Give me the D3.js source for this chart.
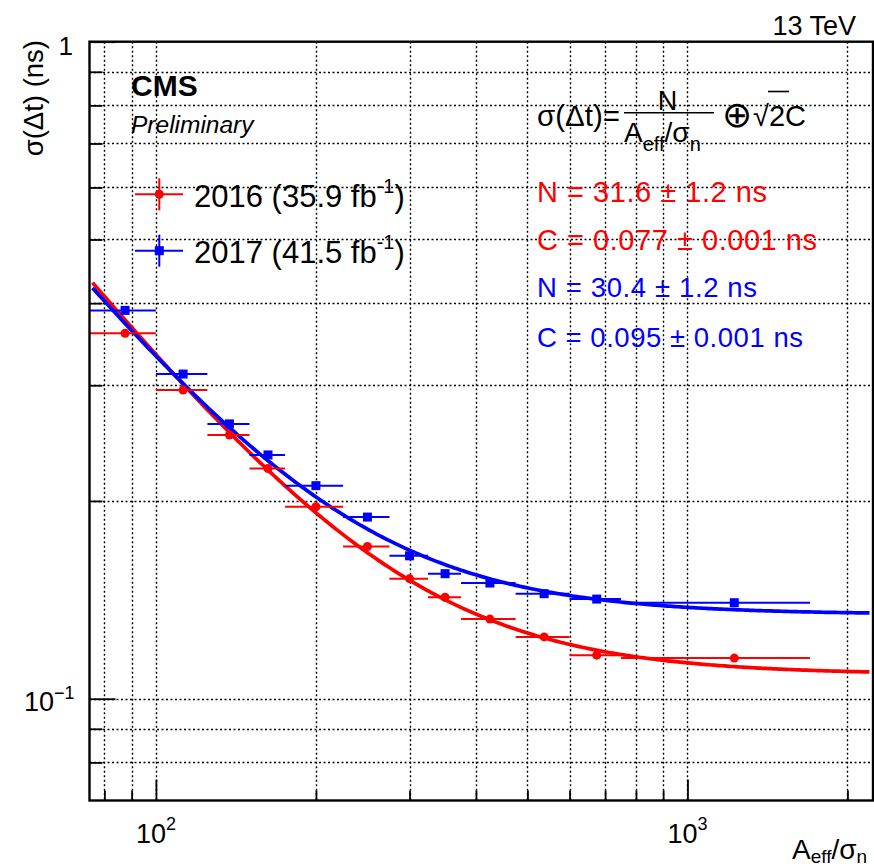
<!DOCTYPE html>
<html>
<head>
<meta charset="utf-8">
<script src="https://cdn.jsdelivr.net/npm/d3@7"></script>
<style>
  html, body { margin: 0; padding: 0; background: #fff; }
  svg { display: block; }
  text { font-family: "Liberation Sans", Arial, Helvetica, sans-serif; }
</style>
</head>
<body>
<svg id="chart" width="874" height="868"></svg>
<script>
// ---------------- data ----------------
const binLow      = [75, 100, 125, 150, 175, 225, 275, 325, 375, 475, 600, 750];
const binHigh     = [100, 125, 150, 175, 225, 275, 325, 375, 475, 600, 750, 1700];
const binCenter   = [87.5, 112.5, 137.5, 162.5, 200, 250, 300, 350, 425, 537.5, 675, 1225];
const sigma2016   = [0.360, 0.295, 0.252, 0.224, 0.196, 0.1705, 0.1523, 0.1427, 0.1322, 0.1242, 0.1165, 0.1153];
const sigma2017   = [0.390, 0.312, 0.262, 0.235, 0.211, 0.189, 0.165, 0.155, 0.150, 0.1445, 0.1418, 0.140];
const seriesNames = ["2016", "2017"];
const seriesLumi  = ["35.9", "41.5"];
const seriesColors = ["#ff0000", "#0000ff"];
const fitN        = [31.6, 30.4];
const fitNerr     = [1.2, 1.2];
const fitC        = [0.077, 0.095];
const fitCerr     = [0.001, 0.001];
const fitRange    = [76, 2200];
const xMinorTicks = [80, 90, 200, 300, 400, 500, 600, 700, 800, 900, 2000];
const xMajorTicks = [100, 1000];
const xMajorLabels = [["10", "2"], ["10", "3"]];
const yMinorTicks = [0.08, 0.09, 0.2, 0.3, 0.4, 0.5, 0.6, 0.7, 0.8, 0.9];
const yMajorTicks = [0.1, 1];
const xDomain = [75, 2234];
const yDomain = [0.07, 1];

// ---------------- layout ----------------
const svg = d3.select("#chart");
const L = 89.5, R = 873, T = 41.7, B = 800.5;
const x = d3.scaleLog().domain(xDomain).range([L, R]);
const y = d3.scaleLog().domain(yDomain).range([B, T]);

svg.append("defs").append("clipPath").attr("id", "plotclip")
  .append("rect").attr("x", L).attr("y", T).attr("width", R - L).attr("height", B - T);

// ---------------- grid ----------------
const grid = svg.append("g").attr("class", "grid");
const allX = xMinorTicks.concat(xMajorTicks);
const allY = yMinorTicks.concat(yMajorTicks).filter(v => v < 1);
grid.selectAll("line.vx").data(allX).enter().append("line")
  .attr("x1", d => Math.round(x(d)) + 0.5).attr("x2", d => Math.round(x(d)) + 0.5).attr("y1", T).attr("y2", B)
  .attr("stroke", "#000").attr("stroke-width", 1.4).attr("stroke-dasharray", "2,2.5");
grid.selectAll("line.hy").data(allY).enter().append("line")
  .attr("y1", d => Math.round(y(d)) + 0.5).attr("y2", d => Math.round(y(d)) + 0.5).attr("x1", L).attr("x2", R)
  .attr("stroke", "#000").attr("stroke-width", 1.4).attr("stroke-dasharray", "2,2.5");

// ---------------- axes ticks (inward) ----------------
const axX1 = svg.append("g").attr("transform", `translate(0,${B})`)
  .call(d3.axisBottom(x).tickValues(xMinorTicks).tickSize(-10).tickFormat(""));
const axX2 = svg.append("g").attr("transform", `translate(0,${B})`)
  .call(d3.axisBottom(x).tickValues(xMajorTicks).tickSize(-21).tickFormat(""));
const axY1 = svg.append("g").attr("transform", `translate(${L},0)`)
  .call(d3.axisLeft(y).tickValues(yMinorTicks).tickSize(-13).tickFormat(""));
const axY2 = svg.append("g").attr("transform", `translate(${L},0)`)
  .call(d3.axisLeft(y).tickValues(yMajorTicks).tickSize(-26).tickFormat(""));
[axX1, axX2, axY1, axY2].forEach(a => {
  a.select(".domain").remove();
  a.selectAll(".tick line").attr("stroke", "#000").attr("stroke-width", 1.8);
});

// ---------------- fit curves ----------------
const curves = svg.append("g").attr("clip-path", "url(#plotclip)");
const nSamp = 300;
const lx0 = Math.log10(fitRange[0]), lx1 = Math.log10(fitRange[1]);
const sampleX = d3.range(nSamp + 1).map(i => Math.pow(10, lx0 + (lx1 - lx0) * i / nSamp));
const line = d3.line().x(d => x(d[0])).y(d => y(d[1]));
[0, 1].forEach(s => {
  const pts = sampleX.map(v => [v, Math.sqrt(Math.pow(fitN[s] / v, 2) + 2 * fitC[s] * fitC[s])]);
  curves.append("path").datum(pts).attr("d", line)
    .attr("fill", "none").attr("stroke", seriesColors[s]).attr("stroke-width", 3.7);
});

// ---------------- data points ----------------
const pts = svg.append("g");
[sigma2016, sigma2017].forEach((vals, s) => {
  const g = pts.append("g");
  g.selectAll("line").data(vals).enter().append("line")
    .attr("x1", (d, i) => x(binLow[i])).attr("x2", (d, i) => x(binHigh[i]))
    .attr("y1", d => y(d)).attr("y2", d => y(d))
    .attr("stroke", seriesColors[s]).attr("stroke-width", 2);
  if (s === 0) {
    g.selectAll("circle").data(vals).enter().append("circle")
      .attr("cx", (d, i) => x(binCenter[i])).attr("cy", d => y(d)).attr("r", 4.5)
      .attr("fill", seriesColors[s]);
  } else {
    g.selectAll("rect").data(vals).enter().append("rect")
      .attr("x", (d, i) => x(binCenter[i]) - 4.5).attr("y", d => y(d) - 4.5)
      .attr("width", 9).attr("height", 9).attr("fill", seriesColors[s]);
  }
});

// ---------------- frame ----------------
svg.append("rect").attr("x", L).attr("y", T).attr("width", R - L).attr("height", B - T)
  .attr("fill", "none").attr("stroke", "#000").attr("stroke-width", 2.4);

// ---------------- axis labels ----------------
xMajorTicks.forEach((v, i) => {
  const t = svg.append("text").attr("x", x(v)).attr("y", 842.7)
    .attr("text-anchor", "middle").attr("font-size", 27).attr("fill", "#000");
  t.append("tspan").text(xMajorLabels[i][0]);
  t.append("tspan").attr("font-size", 18).attr("dy", -13).text(xMajorLabels[i][1]);
});
svg.append("text").attr("x", 73).attr("y", y(1) + 13.5).attr("text-anchor", "end")
  .attr("font-size", 26).text("1");
{
  const t = svg.append("text").attr("x", 24).attr("y", y(0.1) + 12.7)
    .attr("font-size", 27).attr("fill", "#000");
  t.append("tspan").text("10");
  t.append("tspan").attr("font-size", 18).attr("dy", -12).text("−1");
}
// x title
{
  const t = svg.append("text").attr("x", 792).attr("y", 859)
    .attr("font-size", 28).attr("fill", "#000");
  t.append("tspan").text("A");
  t.append("tspan").attr("font-size", 19).attr("dy", 4).text("eff");
  t.append("tspan").attr("dy", -4).text("/σ");
  t.append("tspan").attr("font-size", 19).attr("dy", 4).text("n");
}
// y title
svg.append("text").attr("transform", "translate(43,40) rotate(-90)")
  .attr("text-anchor", "end").attr("font-size", 27.5).text("σ(Δt) (ns)");

// ---------------- header texts ----------------
svg.append("text").attr("x", 856).attr("y", 35).attr("text-anchor", "end")
  .attr("font-size", 27).text("13 TeV");
svg.append("text").attr("x", 131).attr("y", 96).attr("font-size", 30)
  .attr("font-weight", "bold").text("CMS");
svg.append("text").attr("x", 131).attr("y", 132.7).attr("font-size", 24.5)
  .attr("font-style", "italic").text("Preliminary");

// ---------------- legend ----------------
const legY = [194.3, 250.7];
const legend = svg.append("g");
seriesNames.forEach((nm, s) => {
  const cy = legY[s];
  legend.append("line").attr("x1", 135).attr("x2", 183).attr("y1", cy).attr("y2", cy)
    .attr("stroke", seriesColors[s]).attr("stroke-width", 2);
  legend.append("line").attr("x1", 159.3).attr("x2", 159.3).attr("y1", cy - 16).attr("y2", cy + 16)
    .attr("stroke", seriesColors[s]).attr("stroke-width", 2);
  if (s === 0) legend.append("circle").attr("cx", 159.3).attr("cy", cy).attr("r", 4.5).attr("fill", seriesColors[s]);
  else legend.append("rect").attr("x", 154.8).attr("y", cy - 4.5).attr("width", 9).attr("height", 9).attr("fill", seriesColors[s]);
  const t = legend.append("text").attr("x", 194).attr("y", cy + 12.4)
    .attr("font-size", 31).attr("fill", "#000");
  t.append("tspan").text(`${nm} (${seriesLumi[s]} fb`);
  t.append("tspan").attr("font-size", 20).attr("dy", -14).text("-1");
  t.append("tspan").attr("dy", 14).text(")");
});

// ---------------- formula ----------------
const fg = svg.append("g");
fg.append("text").attr("x", 537).attr("y", 126).attr("font-size", 29.5).text("σ(Δt)=");
fg.append("line").attr("x1", 624).attr("x2", 714).attr("y1", 112.7).attr("y2", 112.7)
  .attr("stroke", "#000").attr("stroke-width", 1.6);
fg.append("text").attr("x", 667.5).attr("y", 110).attr("text-anchor", "middle")
  .attr("font-size", 27).text("N");
{
  const t = fg.append("text").attr("x", 624).attr("y", 141.7).attr("font-size", 28);
  t.append("tspan").text("A");
  t.append("tspan").attr("font-size", 20).attr("dy", 9).text("eff");
  t.append("tspan").attr("dy", -9).text("/σ");
  t.append("tspan").attr("font-size", 20).attr("dy", 9).text("n");
}
fg.append("text").attr("x", 736.5).attr("y", 127).attr("text-anchor", "middle")
  .attr("font-family", '"Noto Sans CJK JP", "DejaVu Sans", sans-serif').attr("font-size", 36).text("⊕");
fg.append("text").attr("x", 753).attr("y", 126).attr("font-size", 29).text("√2C");
fg.append("line").attr("x1", 768).attr("x2", 789).attr("y1", 91.5).attr("y2", 91.5)
  .attr("stroke", "#000").attr("stroke-width", 1.6);

// ---------------- fit parameters ----------------
const parY = [202.3, 250, 296.7, 346.7];
const parSize = [29, 27.5];
const parWidthN = [230, 220];
const parWidthC = [280, 266];
[0, 1].forEach(s => {
  svg.append("text").attr("x", 537).attr("y", parY[2 * s]).attr("font-size", parSize[s])
    .attr("textLength", parWidthN[s]).attr("lengthAdjust", "spacing")
    .attr("fill", seriesColors[s]).text(`N = ${fitN[s].toFixed(1)} ± ${fitNerr[s].toFixed(1)} ns`);
  svg.append("text").attr("x", 537).attr("y", parY[2 * s + 1]).attr("font-size", parSize[s])
    .attr("textLength", parWidthC[s]).attr("lengthAdjust", "spacing")
    .attr("fill", seriesColors[s]).text(`C = ${fitC[s].toFixed(3)} ± ${fitCerr[s].toFixed(3)} ns`);
});
</script>
</body>
</html>
